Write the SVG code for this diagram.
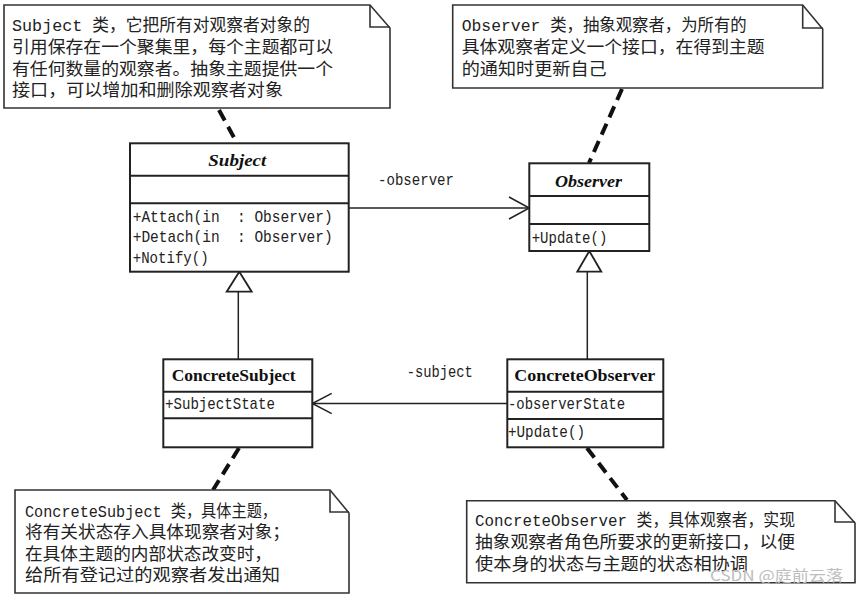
<svg xmlns="http://www.w3.org/2000/svg" width="861" height="596" viewBox="0 0 861 596">
<style>
.bg{fill:#ffffff}
.box{fill:#ffffff;stroke:#222;stroke-width:2}
.sep{stroke:#222;stroke-width:2;fill:none}
.note{fill:#ffffff;stroke:#333;stroke-width:1.6}
.fold{fill:none;stroke:#333;stroke-width:1.6}
.ln{fill:none;stroke:#222;stroke-width:1.5}
.dash{fill:none;stroke:#111;stroke-width:4;stroke-dasharray:12 7}
.tri{fill:#ffffff;stroke:#222;stroke-width:1.8}
.mono{font-family:'Liberation Mono','DejaVu Sans Mono',monospace;font-size:17px;fill:#222;white-space:pre}
.title{font-family:'Liberation Serif','DejaVu Serif',serif;font-size:17px;fill:#111}
.it{font-style:italic;font-weight:bold}
.bd{font-weight:bold}
.cn{font-family:'Liberation Mono','Noto Sans CJK SC',monospace;font-size:17px;fill:#222;white-space:pre}
.wm{font-family:'Noto Sans CJK SC','Liberation Sans',sans-serif;font-size:15px;fill:#bdbdbd}
</style>
<rect class="bg" x="0" y="0" width="861" height="596"/>

<g id="connectors">
  <line class="dash" x1="219" y1="110" x2="237" y2="143"/>
  <line class="dash" x1="622" y1="89" x2="589" y2="163"/>
  <line class="dash" x1="239" y1="448" x2="213" y2="490"/>
  <line class="dash" x1="587" y1="448" x2="627" y2="500"/>
  <line class="ln" x1="238.3" y1="291.7" x2="238.3" y2="359.3"/>
  <polygon class="tri" points="239.3,271.7 226.7,291.7 251.7,291.7"/>
  <line class="ln" x1="587.3" y1="271.7" x2="587.3" y2="359.3"/>
  <polygon class="tri" points="589.3,251 577.3,271.7 601.3,271.7"/>
  <line class="ln" x1="348.7" y1="208" x2="529.3" y2="208"/>
  <polyline class="ln" points="509,197 529.3,208 509,219"/>
  <line class="ln" x1="507.3" y1="403.5" x2="312.3" y2="403.5"/>
  <polyline class="ln" points="331.7,393.3 312.3,403.5 331.7,413.7"/>
  <text class="mono" x="378" y="185" textLength="76" lengthAdjust="spacingAndGlyphs">-observer</text>
  <text class="mono" x="406.7" y="377" textLength="66" lengthAdjust="spacingAndGlyphs">-subject</text>
</g>

<g id="note-subject">
  <path class="note" d="M4,5 H370 L390,28 V108 H4 Z"/>
  <path class="fold" d="M370,5 V27 H390"/>
  <text class="cn" x="12" y="31" textLength="298" lengthAdjust="spacingAndGlyphs">Subject 类，它把所有对观察者对象的</text>
  <text class="cn" x="12" y="53" textLength="321" lengthAdjust="spacingAndGlyphs">引用保存在一个聚集里，每个主题都可以</text>
  <text class="cn" x="12" y="75" textLength="321" lengthAdjust="spacingAndGlyphs">有任何数量的观察者。抽象主题提供一个</text>
  <text class="cn" x="12" y="96" textLength="271" lengthAdjust="spacingAndGlyphs">接口，可以增加和删除观察者对象</text>
</g>

<g id="note-observer">
  <path class="note" d="M452.7,5 H802.7 L822.7,29 V88 H452.7 Z"/>
  <path class="fold" d="M802.7,5 V28 H822.7"/>
  <text class="cn" x="461.7" y="31" textLength="285" lengthAdjust="spacingAndGlyphs">Observer 类，抽象观察者，为所有的</text>
  <text class="cn" x="461.7" y="53" textLength="303" lengthAdjust="spacingAndGlyphs">具体观察者定义一个接口，在得到主题</text>
  <text class="cn" x="461.7" y="75" textLength="145" lengthAdjust="spacingAndGlyphs">的通知时更新自己</text>
</g>

<g id="subject">
  <rect class="box" x="130" y="143.3" width="218.7" height="128.4"/>
  <line class="sep" x1="130" y1="175.7" x2="348.7" y2="175.7"/>
  <line class="sep" x1="130" y1="203.3" x2="348.7" y2="203.3"/>
  <text class="title it" x="208.3" y="166" textLength="58" lengthAdjust="spacingAndGlyphs">Subject</text>
  <text class="mono" x="132.7" y="222" textLength="200" lengthAdjust="spacingAndGlyphs">+Attach(in  : Observer)</text>
  <text class="mono" x="132.7" y="242" textLength="200" lengthAdjust="spacingAndGlyphs">+Detach(in  : Observer)</text>
  <text class="mono" x="132.7" y="263" textLength="76" lengthAdjust="spacingAndGlyphs">+Notify()</text>
</g>

<g id="observer">
  <rect class="box" x="529.3" y="163.3" width="120" height="87.7"/>
  <line class="sep" x1="529.3" y1="196" x2="649.3" y2="196"/>
  <line class="sep" x1="529.3" y1="224" x2="649.3" y2="224"/>
  <text class="title it" x="555" y="187" textLength="67" lengthAdjust="spacingAndGlyphs">Observer</text>
  <text class="mono" x="531.7" y="243" textLength="75.6" lengthAdjust="spacingAndGlyphs">+Update()</text>
</g>

<g id="concrete-subject">
  <rect class="box" x="163.3" y="359.3" width="149" height="88"/>
  <line class="sep" x1="163.3" y1="391.7" x2="312.3" y2="391.7"/>
  <line class="sep" x1="163.3" y1="418.3" x2="312.3" y2="418.3"/>
  <text class="title bd" x="171.7" y="381" textLength="124" lengthAdjust="spacingAndGlyphs">ConcreteSubject</text>
  <text class="mono" x="165" y="409" textLength="110" lengthAdjust="spacingAndGlyphs">+SubjectState</text>
</g>

<g id="concrete-observer">
  <rect class="box" x="507.3" y="359.3" width="156" height="88"/>
  <line class="sep" x1="507.3" y1="391.7" x2="663.3" y2="391.7"/>
  <line class="sep" x1="507.3" y1="419" x2="663.3" y2="419"/>
  <text class="title bd" x="514.3" y="381" textLength="141" lengthAdjust="spacingAndGlyphs">ConcreteObserver</text>
  <text class="mono" x="508" y="409" textLength="117" lengthAdjust="spacingAndGlyphs">-observerState</text>
  <text class="mono" x="508" y="437" textLength="77" lengthAdjust="spacingAndGlyphs">+Update()</text>
</g>

<g id="note-concrete-subject">
  <path class="note" d="M15,490 H330 L349,513 V593 H15 Z"/>
  <path class="fold" d="M330,490 V512 H349"/>
  <text class="cn" x="25" y="517" textLength="252" lengthAdjust="spacingAndGlyphs">ConcreteSubject 类，具体主题，</text>
  <text class="cn" x="25" y="538" textLength="265" lengthAdjust="spacingAndGlyphs">将有关状态存入具体现察者对象；</text>
  <text class="cn" x="25" y="560" textLength="247" lengthAdjust="spacingAndGlyphs">在具体主题的内部状态改变时，</text>
  <text class="cn" x="25" y="581" textLength="255" lengthAdjust="spacingAndGlyphs">给所有登记过的观察者发出通知</text>
</g>

<g id="note-concrete-observer">
  <path class="note" d="M466.7,500.7 H835 L855,523 V582.7 H466.7 Z"/>
  <path class="fold" d="M835,500.7 V522 H855"/>
  <text class="cn" x="475" y="526" textLength="320" lengthAdjust="spacingAndGlyphs">ConcreteObserver 类，具体观察者，实现</text>
  <text class="cn" x="475" y="548" textLength="320" lengthAdjust="spacingAndGlyphs">抽象观察者角色所要求的更新接口，以便</text>
  <text class="cn" x="475" y="570" textLength="273" lengthAdjust="spacingAndGlyphs">使本身的状态与主题的状态相协调</text>
</g>

<text class="wm" x="710" y="581" textLength="133" lengthAdjust="spacingAndGlyphs">CSDN @庭前云落</text>
</svg>
